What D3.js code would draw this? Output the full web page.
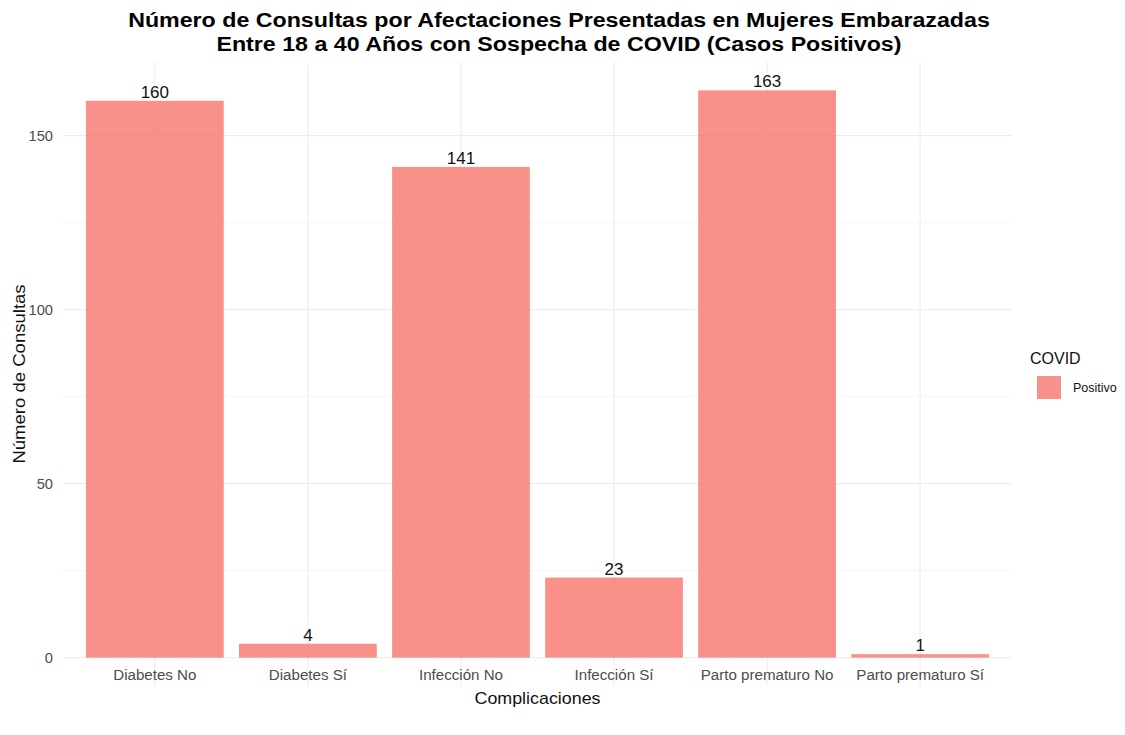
<!DOCTYPE html>
<html>
<head>
<meta charset="utf-8">
<script src="https://cdn.jsdelivr.net/npm/d3@7"></script>
<style>
  html, body { margin: 0; padding: 0; background: #fff; }
  svg { display: block; font-family: "Liberation Sans", Arial, sans-serif; }
</style>
</head>
<body>
<svg id="chart" width="1125" height="735"></svg>
<script>
// Consultas por complicación (casos positivos de COVID)
const categories = ["Diabetes No", "Diabetes Sí", "Infección No", "Infección Sí", "Parto prematuro No", "Parto prematuro Sí"];
const consultas = [160, 4, 141, 23, 163, 1];
const yTicks = [0, 50, 100, 150];
const yMinorTicks = [25, 75, 125];
const legendLabels = ["Positivo"];

const titleLines = [
  "Número de Consultas por Afectaciones Presentadas en Mujeres Embarazadas",
  "Entre 18 a 40 Años con Sospecha de COVID (Casos Positivos)"
];

const svg = d3.select("#chart");
const panel = { left: 63, right: 1012, top: 62, bottom: 686 };

// widen glyph runs slightly (wide-set sans rendering)
function widen(sel, factor) {
  sel.each(function () {
    const w = this.getComputedTextLength();
    d3.select(this).attr("textLength", w * factor).attr("lengthAdjust", "spacingAndGlyphs");
  });
}

const maxV = d3.max(consultas);
const y = d3.scaleLinear()
  .domain([-maxV * 0.05, maxV * 1.05])
  .range([panel.bottom, panel.top]);

const x = d3.scaleBand()
  .domain(categories)
  .range([panel.left, panel.right])
  .paddingInner(0.1)
  .paddingOuter(0.15);

const grid = svg.append("g");
// minor horizontal grid
grid.selectAll("line.minor").data(yMinorTicks).join("line")
  .attr("class", "minor")
  .attr("x1", panel.left).attr("x2", panel.right)
  .attr("y1", d => y(d)).attr("y2", d => y(d))
  .attr("stroke", "#f3f3f3").attr("stroke-width", 0.8);
// major horizontal grid
grid.selectAll("line.major").data(yTicks).join("line")
  .attr("class", "major")
  .attr("x1", panel.left).attr("x2", panel.right)
  .attr("y1", d => y(d)).attr("y2", d => y(d))
  .attr("stroke", "#ebebeb").attr("stroke-width", 1);
// vertical grid at categories
grid.selectAll("line.vx").data(categories).join("line")
  .attr("class", "vx")
  .attr("x1", d => x(d) + x.bandwidth() / 2).attr("x2", d => x(d) + x.bandwidth() / 2)
  .attr("y1", panel.top).attr("y2", panel.bottom)
  .attr("stroke", "#ebebeb").attr("stroke-width", 1);

// bars
svg.append("g").selectAll("rect").data(categories).join("rect")
  .attr("x", d => x(d))
  .attr("width", x.bandwidth())
  .attr("y", (d, i) => y(consultas[i]))
  .attr("height", (d, i) => y(0) - y(consultas[i]))
  .attr("fill", "#F8766D")
  .attr("fill-opacity", 0.8);

// value labels
svg.append("g").selectAll("text").data(categories).join("text")
  .attr("x", d => x(d) + x.bandwidth() / 2)
  .attr("y", (d, i) => y(consultas[i]) - 3)
  .attr("text-anchor", "middle")
  .attr("font-size", 16)
  .attr("fill", "#111")
  .text((d, i) => consultas[i])
  .call(widen, 1.06);

// y axis labels
const yAxis = svg.append("g")
  .attr("transform", `translate(${panel.left - 10},0)`)
  .call(d3.axisLeft(y).tickValues(yTicks).tickSize(0).tickPadding(0));
yAxis.select(".domain").remove();
yAxis.selectAll("text").attr("font-size", 14).attr("fill", "#4d4d4d")
  .attr("font-family", "Liberation Sans, Arial, sans-serif")
  .call(widen, 1.05);

// x axis labels
const xAxis = svg.append("g")
  .attr("transform", `translate(0,${panel.bottom - 16})`)
  .call(d3.axisBottom(x).tickSize(0).tickPadding(0));
xAxis.select(".domain").remove();
xAxis.selectAll("text").attr("font-size", 14).attr("fill", "#4d4d4d")
  .attr("font-family", "Liberation Sans, Arial, sans-serif")
  .call(widen, 1.08);

// axis titles
svg.append("text")
  .attr("x", (panel.left + panel.right) / 2).attr("y", 704)
  .attr("text-anchor", "middle").attr("font-size", 17).attr("fill", "#111")
  .text("Complicaciones")
  .call(widen, 1.05);
svg.append("text")
  .attr("transform", `translate(25,${(panel.top + panel.bottom) / 2}) rotate(-90)`)
  .attr("text-anchor", "middle").attr("font-size", 17).attr("fill", "#111")
  .text("Número de Consultas")
  .call(widen, 1.09);

// title
svg.append("g").selectAll("text").data(titleLines).join("text")
  .attr("x", 559).attr("y", (d, i) => 27 + i * 24)
  .attr("text-anchor", "middle").attr("font-size", 20).attr("font-weight", "bold")
  .attr("fill", "#000")
  .text(d => d)
  .call(widen, 1.16);

// legend
const legend = svg.append("g");
legend.append("text").attr("x", 1030).attr("y", 364)
  .attr("font-size", 16).attr("fill", "#111").text("COVID");
legend.selectAll("rect").data(legendLabels).join("rect")
  .attr("x", 1037).attr("y", (d, i) => 376 + i * 25)
  .attr("width", 24).attr("height", 23)
  .attr("fill", "#F8766D").attr("fill-opacity", 0.8);
legend.selectAll("text.lab").data(legendLabels).join("text")
  .attr("class", "lab")
  .attr("x", 1073).attr("y", (d, i) => 392 + i * 25)
  .attr("font-size", 12.5).attr("fill", "#111").text(d => d);
</script>
</body>
</html>
